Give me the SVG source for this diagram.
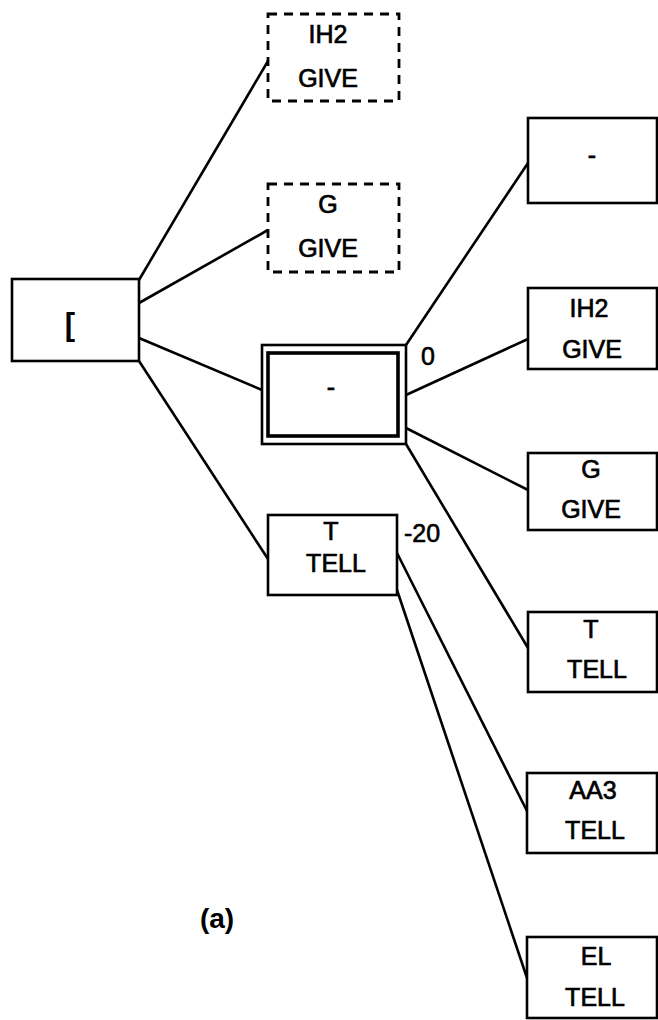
<svg xmlns="http://www.w3.org/2000/svg" width="658" height="1020" viewBox="0 0 658 1020">
<style>
.box{fill:#fff;stroke:#000;stroke-width:2.6}
.dash{fill:#fff;stroke:#000;stroke-width:2.8;stroke-dasharray:9 7}
.inner{fill:#fff;stroke:#000;stroke-width:3.6}
.t{font-family:"Liberation Sans",Arial,sans-serif;font-size:25px;text-anchor:middle;fill:#000;stroke:#000;stroke-width:0.7}
.lbl{font-family:"Liberation Sans",Arial,sans-serif;font-size:25px;fill:#000;stroke:#000;stroke-width:0.6}
.cap{font-family:"Liberation Sans",Arial,sans-serif;font-size:28px;font-weight:bold;text-anchor:middle;fill:#000}
.br{font-family:"Liberation Sans",Arial,sans-serif;font-size:31px;font-weight:bold;text-anchor:middle;fill:#000}
#connectors line{stroke:#000;stroke-width:2.6}
</style>
<rect width="658" height="1020" fill="#fff"/>
<g id="connectors">
<line x1="139" y1="280" x2="268" y2="61"/>
<line x1="139" y1="303" x2="268" y2="230"/>
<line x1="139" y1="338" x2="262" y2="390"/>
<line x1="139" y1="361" x2="268" y2="559"/>
<line x1="406" y1="345" x2="528" y2="163"/>
<line x1="406" y1="395" x2="528" y2="339"/>
<line x1="406" y1="428" x2="528" y2="490"/>
<line x1="406" y1="444" x2="528" y2="648"/>
<line x1="397" y1="553" x2="527" y2="811"/>
<line x1="397" y1="590" x2="527" y2="978"/>
</g>
<g id="root"><rect class="box" x="12" y="279" width="127" height="82"/><text class="br" x="70" y="335">[</text></g>
<g id="n_ih2_give_a"><rect class="dash" x="268" y="14" width="131" height="87"/><text class="t" x="328" y="43">IH2</text><text class="t" x="328" y="87">GIVE</text></g>
<g id="n_g_give_a"><rect class="dash" x="268" y="184" width="131" height="88"/><text class="t" x="328" y="213">G</text><text class="t" x="328" y="257">GIVE</text></g>
<g id="n_dash_sel"><rect class="box" x="262" y="345" width="144" height="99"/><rect class="inner" x="268" y="353" width="130" height="83"/><text class="t" x="331" y="396">-</text></g>
<g id="n_t_tell_a"><rect class="box" x="268" y="515" width="129" height="80"/><text class="t" x="331" y="540">T</text><text class="t" x="336" y="572">TELL</text></g>
<text class="lbl" x="421" y="365">0</text>
<text class="lbl" x="404" y="542">-20</text>
<g id="n_dash_r"><rect class="box" x="528" y="118" width="129" height="85"/><text class="t" x="592" y="164">-</text></g>
<g id="n_ih2_give_r"><rect class="box" x="528" y="288" width="129" height="81"/><text class="t" x="589" y="317">IH2</text><text class="t" x="592" y="358">GIVE</text></g>
<g id="n_g_give_r"><rect class="box" x="528" y="453" width="129" height="77"/><text class="t" x="591" y="478">G</text><text class="t" x="591" y="518">GIVE</text></g>
<g id="n_t_tell_r"><rect class="box" x="528" y="612" width="129" height="80"/><text class="t" x="591" y="638">T</text><text class="t" x="597" y="678">TELL</text></g>
<g id="n_aa3_tell"><rect class="box" x="527" y="773" width="130" height="80"/><text class="t" x="593" y="799">AA3</text><text class="t" x="595" y="839">TELL</text></g>
<g id="n_el_tell"><rect class="box" x="527" y="937" width="130" height="81"/><text class="t" x="596" y="965">EL</text><text class="t" x="595" y="1006">TELL</text></g>
<text class="cap" x="217" y="928">(a)</text>
</svg>
